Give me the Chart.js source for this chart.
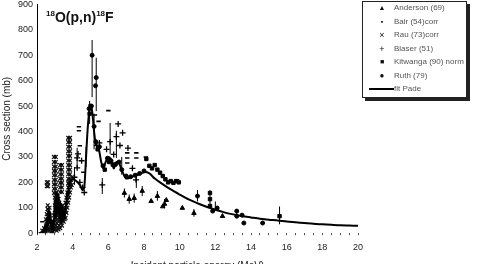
<!DOCTYPE html>
<html>
<head>
<meta charset="utf-8">
<script src="https://cdn.jsdelivr.net/npm/chart.js@4.4.1/dist/chart.umd.min.js"></script>
<style>
  html, body { margin: 0; padding: 0; overflow: hidden; background: #fff; }
  #wrap { position: relative; width: 477px; height: 277px; margin-top: -5px; }
  #title { position: absolute; left: 46px; top: 15px; font: bold 14px "Liberation Sans", Arial, sans-serif; line-height: 14px; color: #111; white-space: nowrap; }
  #title sup { font-size: 8px; vertical-align: 6px; line-height: 0; }
  #legend { position: absolute; left: 362px; top: 6px; width: 103px; height: 95px; border: 1px solid #222; box-shadow: 3px 3px 0 #222; background: #fff; font: 8px "Liberation Sans", Arial, sans-serif; color: #555; }
  .row { position: absolute; left: 0; height: 10px; line-height: 10px; width: 100%; }
  .mk { position: absolute; left: 13px; width: 12px; text-align: center; color: #111; }
  .tx { position: absolute; left: 31px; white-space: nowrap; }
  .ln { position: absolute; left: 6px; top: 4px; width: 25px; height: 2px; background: #000; }
</style>
</head>
<body>
<div id="wrap">
  <canvas id="chart"></canvas>
  <div id="title"><sup>18</sup>O(p,n)<sup>18</sup>F</div>
  <div id="legend">
    <div class="row" style="top:1px"><span class="mk" style="font-size:7px">&#9650;</span><span class="tx">Anderson (69)</span></div>
    <div class="row" style="top:15px"><span class="mk" style="font-size:7px">&#9642;</span><span class="tx">Bair (54)corr</span></div>
    <div class="row" style="top:28px"><span class="mk" style="font-size:9px">&#215;</span><span class="tx">Rau (73)corr</span></div>
    <div class="row" style="top:42px"><span class="mk" style="font-size:9px">+</span><span class="tx">Blaser (51)</span></div>
    <div class="row" style="top:55px"><span class="mk" style="font-size:7px">&#9632;</span><span class="tx">Kitwanga (90) norm</span></div>
    <div class="row" style="top:69px"><span class="mk" style="font-size:8px">&#9679;</span><span class="tx">Ruth (79)</span></div>
    <div class="row" style="top:82px"><span class="ln"></span><span class="tx">fit Pade</span></div>
  </div>
</div>
<script>
// Anderson (69) - triangles
var andersonE = [6.9, 7.17, 7.45, 7.9, 8.4, 8.75, 9.05, 9.25, 9.15, 10.15, 10.8, 12.4];
var andersonS = [158, 134, 138, 166, 126, 146, 105, 130, 115, 99, 79, 67];

// Bair (54)corr - small dashes
var bairE = [2.3, 4.35, 4.35, 4.4, 4.6, 5.25, 5.45, 6.0, 7.06, 7.06, 7.06, 7.57, 7.57, 8.1, 9.85];
var bairS = [45, 419, 403, 344, 240, 465, 440, 482, 316, 296, 276, 316, 296, 300, 210];

// Rau (73)corr - crosses, dense at low energy
var rauE = [2.55, 2.62, 2.55, 2.62, 2.6, 2.6,
  2.95, 3.05, 2.95, 3.05, 2.95, 3.05, 2.95, 3.05, 2.95, 3.05, 2.95, 3.05, 2.95, 3.05, 2.95, 3.05, 2.95, 3.05,
  3.3, 3.4, 3.3, 3.4, 3.3, 3.4, 3.3, 3.4, 3.3, 3.4, 3.3, 3.4, 3.3, 3.4,
  3.75, 3.85, 3.75, 3.85, 3.75, 3.85, 3.75, 3.85, 3.75, 3.85, 3.75, 3.85, 3.75, 3.85, 3.75, 3.85, 3.75, 3.85, 3.75, 3.85, 3.75, 3.85,
  2.3, 2.4, 2.4, 2.5, 2.5, 2.5, 2.55, 2.55, 2.55, 2.6, 2.6, 2.6, 2.6, 2.65, 2.65, 2.65,
  2.7, 2.7, 2.7, 2.7, 2.75, 2.75, 2.8, 2.8, 2.85, 2.85, 2.9, 2.9, 2.95, 2.95, 2.95,
  3.0, 3.0, 3.0, 3.0, 3.0, 3.05, 3.05, 3.05, 3.05, 3.05, 3.1, 3.1, 3.1, 3.1, 3.1, 3.1,
  3.15, 3.15, 3.15, 3.15, 3.15, 3.2, 3.2, 3.2, 3.2, 3.2, 3.25, 3.25, 3.25, 3.25,
  3.3, 3.3, 3.3, 3.3, 3.35, 3.35, 3.35, 3.4, 3.4, 3.4, 3.45, 3.45, 3.45, 3.5, 3.5, 3.5,
  3.55, 3.55, 3.6, 3.6, 3.6, 3.65, 3.65, 3.65, 3.7, 3.7, 3.7, 3.75, 3.75, 3.75,
  3.8, 3.8, 3.8, 3.85, 3.85, 3.9, 3.9, 3.95, 3.95];
var rauS = [200, 200, 185, 185, 110, 95,
  300, 300, 280, 280, 262, 262, 245, 245, 228, 228, 210, 210, 192, 192, 175, 175, 158, 158,
  268, 268, 250, 250, 232, 232, 215, 215, 198, 198, 180, 180, 162, 162,
  375, 375, 358, 358, 340, 340, 322, 322, 304, 304, 286, 286, 268, 268, 250, 250, 232, 232, 214, 214, 196, 196,
  10, 5, 20, 5, 30, 55, 15, 45, 75, 10, 35, 65, 95, 20, 50, 80,
  10, 40, 70, 100, 15, 45, 5, 30, 10, 25, 5, 20, 15, 40, 70,
  20, 50, 80, 110, 140, 30, 60, 90, 120, 150, 10, 40, 70, 100, 130, 160,
  25, 55, 85, 115, 145, 15, 45, 75, 105, 135, 30, 60, 90, 120,
  20, 50, 80, 110, 40, 70, 100, 30, 60, 90, 50, 80, 110, 45, 75, 100,
  55, 85, 60, 90, 120, 80, 110, 140, 100, 130, 160, 120, 150, 180,
  140, 170, 200, 160, 190, 180, 210, 190, 220];

// Blaser (51) - plus signs
var blaserE = [4.1, 4.25, 4.3, 4.5, 4.25, 4.4, 4.55, 4.65, 5.35, 5.5, 5.66, 5.9, 6.1, 6.3, 6.45, 6.55, 6.65, 6.8, 7.1, 7.35, 7.55];
var blaserS = [220, 296, 312, 285, 257, 200, 180, 160, 345, 355, 190, 330, 360, 310, 380, 430, 345, 395, 335, 255, 210];

// Kitwanga (90) norm - squares
var kitwangaE = [4.95, 5.0, 5.4, 5.8, 6.05, 6.25, 8.13, 8.3, 8.45, 8.6, 8.75, 8.9, 9.05, 9.2, 9.35, 9.5, 9.65, 9.8, 9.95, 11.7, 11.7, 11.7, 15.6];
var kitwangaS = [470, 500, 330, 250, 280, 270, 292, 265, 255, 268, 250, 238, 225, 212, 200, 205, 198, 205, 200, 158, 134, 107, 67];

// Ruth (79) - circles
var ruthE = [4.92, 5.05, 5.09, 5.2, 5.28, 5.3, 5.32, 5.5, 5.7, 5.95, 6.15, 6.4, 6.6, 6.75, 7.0, 7.25, 7.5, 7.75, 8.0,
  11.0, 11.85, 12.1, 13.2, 13.2, 13.5, 13.6, 14.65];
var ruthS = [490, 500, 700, 420, 580, 360, 612, 340, 265, 295, 285, 270, 280, 250, 225, 222, 228, 235, 245,
  146, 87, 99, 87, 67, 71, 40, 40];

// fit Pade curve
var fitE = [2.1, 2.3, 2.4, 2.45, 2.5, 2.55, 2.6, 2.65, 2.7, 2.75, 2.8, 2.85, 2.9, 2.95, 3.0, 3.05, 3.1, 3.15, 3.2,
  3.25, 3.3, 3.35, 3.4, 3.45, 3.5, 3.55, 3.6, 3.65, 3.7, 3.75, 3.8, 3.9, 4.0, 4.2, 4.4, 4.55, 4.65, 4.75, 4.85,
  4.95, 5.02, 5.1, 5.2, 5.3, 5.45, 5.6, 5.72, 5.85, 6.0, 6.15, 6.3, 6.45, 6.6, 6.8, 7.0, 7.3, 7.6, 8.0, 8.3,
  8.6, 9.0, 9.5, 10, 10.5, 11, 11.5, 12, 12.5, 13, 13.5, 14, 14.5, 15, 15.5, 16, 16.5, 17, 17.5, 18, 18.5, 19, 19.5, 20];
var fitS = [0, 4, 10, 30, 12, 60, 25, 95, 40, 80, 20, 50, 8, 40, 130, 60, 160, 80, 150,
  60, 120, 40, 110, 50, 90, 60, 100, 120, 165, 150, 195, 205, 212, 205, 190, 170, 180, 300, 420,
  490, 505, 475, 400, 350, 335, 280, 255, 280, 300, 290, 255, 280, 275, 240, 215, 222, 228, 240, 235,
  215, 195, 172, 152, 133, 118, 104, 92, 82, 74, 67, 62, 57, 53, 50, 46, 43, 40, 37, 35, 33, 31, 30, 29];

// error bars: energy, low, high
var errE = [4.1, 4.25, 4.75, 4.95, 5.09, 5.2, 5.32, 5.66, 6.1, 6.45, 6.75, 6.9, 7.17, 7.45, 7.57, 7.9, 8.75, 9.15, 10.8, 11.0, 11.7, 12.0, 13.2, 15.6];
var errLo = [190, 257, 260, 430, 535, 330, 480, 154, 312, 296, 230, 140, 116, 120, 178, 146, 128, 98, 65, 125, 100, 90, 60, 35];
var errHi = [260, 336, 340, 520, 760, 470, 690, 217, 434, 403, 300, 176, 152, 156, 237, 186, 166, 134, 95, 170, 170, 125, 95, 105];

function toPoints(es, ss) {
    return es.map((e, i) => ({ x: e, y: ss[i] }));
}

var errPoints = [];
errE.forEach(function (e, i) {
    errPoints.push({ x: e, y: errLo[i] });
    errPoints.push({ x: e, y: errHi[i] });
    errPoints.push({ x: e, y: null });
});

var font = "'Liberation Sans', Arial, sans-serif";

var canvas = document.getElementById("chart");
var chart = new Chart(canvas, {
    type: 'scatter',
    data: {
        datasets: [
            {
                label: 'fit Pade',
                type: 'line',
                data: toPoints(fitE, fitS),
                borderColor: '#000',
                borderWidth: 2,
                pointRadius: 0,
                tension: 0.25,
                fill: false
            },
            {
                label: 'errors',
                type: 'line',
                data: errPoints,
                borderColor: '#000',
                borderWidth: 1,
                pointRadius: 0,
                spanGaps: false,
                tension: 0
            },
            {
                label: 'Rau (73)corr',
                data: toPoints(rauE, rauS),
                pointStyle: 'crossRot',
                pointRadius: 2.7,
                borderColor: '#111',
                borderWidth: 1.2
            },
            {
                label: 'Anderson (69)',
                data: toPoints(andersonE, andersonS),
                pointStyle: 'triangle',
                pointRadius: 2.6,
                backgroundColor: '#000',
                borderColor: '#000',
                borderWidth: 1
            },
            {
                label: 'Bair (54)corr',
                data: toPoints(bairE, bairS),
                pointStyle: 'line',
                pointRadius: 2.2,
                borderColor: '#000',
                borderWidth: 1.6
            },
            {
                label: 'Blaser (51)',
                data: toPoints(blaserE, blaserS),
                pointStyle: 'cross',
                pointRadius: 3,
                borderColor: '#000',
                borderWidth: 1.3
            },
            {
                label: 'Kitwanga (90) norm',
                data: toPoints(kitwangaE, kitwangaS),
                pointStyle: 'rect',
                pointRadius: 2.4,
                backgroundColor: '#000',
                borderColor: '#000',
                borderWidth: 1
            },
            {
                label: 'Ruth (79)',
                data: toPoints(ruthE, ruthS),
                pointStyle: 'circle',
                pointRadius: 2,
                backgroundColor: '#000',
                borderColor: '#000',
                borderWidth: 1
            }
        ]
    },
    options: {
        animation: false,
        responsive: true,
        maintainAspectRatio: false,
        layout: { padding: { left: 1, right: 119, top: 0, bottom: 0 } },
        plugins: {
            legend: { display: false },
            tooltip: { enabled: false }
        },
        scales: {
            x: {
                type: 'linear',
                min: 2,
                max: 20,
                ticks: {
                    stepSize: 0.5,
                    autoSkip: false,
                    maxRotation: 0,
                    padding: 7,
                    color: '#222',
                    font: { family: font, size: 9 },
                    callback: function (v) { return v % 2 === 0 ? v : ''; }
                },
                grid: { display: true, drawOnChartArea: false, tickLength: 2, color: '#555' },
                border: { display: false },
                title: {
                    display: true,
                    text: 'Incident particle energy (MeV)',
                    color: '#222',
                    font: { family: font, size: 10 },
                    padding: { top: 0, bottom: 0 }
                }
            },
            y: {
                min: 0,
                max: 900,
                ticks: {
                    stepSize: 100,
                    padding: 4,
                    color: '#222',
                    font: { family: font, size: 9 }
                },
                grid: { display: false, drawTicks: false },
                border: { display: true, color: '#000', width: 1 },
                title: {
                    display: true,
                    text: 'Cross section (mb)',
                    color: '#222',
                    font: { family: font, size: 10 },
                    padding: { top: 0, bottom: 1 }
                }
            }
        }
    }
});
</script>
</body>
</html>
